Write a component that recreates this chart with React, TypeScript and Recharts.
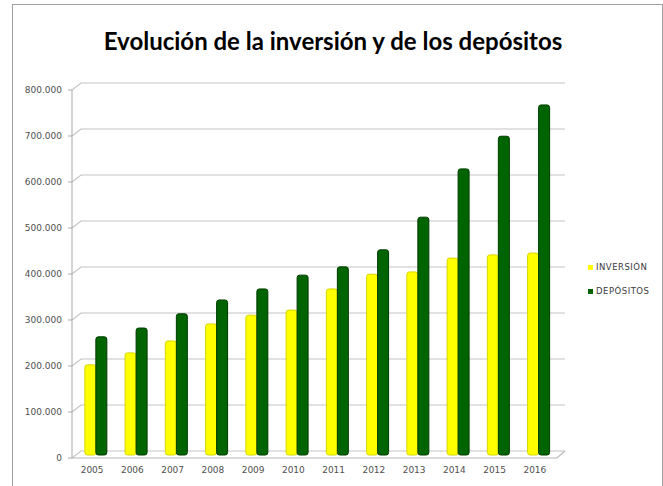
import React from 'react';
import { BarChart, Bar, XAxis, YAxis, CartesianGrid } from 'recharts';

const years = ['2005', '2006', '2007', '2008', '2009', '2010', '2011', '2012', '2013', '2014', '2015', '2016'];
const inversion = [196000, 222000, 248000, 285000, 304000, 315000, 361000, 393000, 398000, 428000, 435000, 439000];
const depositos = [257000, 276000, 307000, 337000, 361000, 391000, 409000, 446000, 517000, 622000, 693000, 761000];
const yTicks = [0, 100000, 200000, 300000, 400000, 500000, 600000, 700000, 800000];

const data = years.map((year, i) => ({
  year,
  inversion: inversion[i],
  depositos: depositos[i],
}));

const DEPTH_X = 9;
const DEPTH_Y = 7;

function formatThousands(v: number) {
  return String(v).replace(/\B(?=(\d{3})+(?!\d))/g, '.');
}

// back-wall gridline with a slanted joint, to mimic the 3D look
function WallLine(props: any) {
  const { x1, x2, y1 } = props;
  const y = y1;
  const back = (
    <path
      d={`M${x1},${y} L${x1 + DEPTH_X},${y - DEPTH_Y} L${x2 + DEPTH_X + 1},${y - DEPTH_Y}`}
      fill="none"
      stroke="#c4c4c4"
      strokeWidth={1.2}
    />
  );
  if (y >= 457) {
    return (
      <g key={props.key}>
        {back}
        <path
          d={`M${x1},${y} L${x2 + 2},${y} L${x2 + DEPTH_X + 1},${y - DEPTH_Y}`}
          fill="none"
          stroke="#b8b8b8"
          strokeWidth={1.2}
        />
      </g>
    );
  }
  return <g key={props.key}>{back}</g>;
}

function Column(props: any) {
  const { x, y, width, height, fill, stroke } = props;
  if (!height || height <= 0) return null;
  return (
    <rect
      x={x + 4}
      y={y - 3}
      width={width}
      height={height}
      rx={2.5}
      ry={2.5}
      fill={fill}
      stroke={stroke}
      strokeWidth={1}
    />
  );
}

const legendItems = [
  { label: 'INVERSIÓN', color: '#ffff00' },
  { label: 'DEPÓSITOS', color: '#006400' },
];

function SideLegend() {
  return (
    <div style={{ position: 'absolute', left: 588, top: 255, fontFamily: 'DejaVu Sans', fontSize: 8.5, letterSpacing: 0.5, color: '#3a3a3a' }}>
      {legendItems.map((it) => (
        <div key={it.label} style={{ display: 'flex', alignItems: 'center', height: 24 }}>
          <span style={{ width: 5, height: 5, background: it.color, marginRight: 3, display: 'inline-block' }} />
          <span>{it.label}</span>
        </div>
      ))}
    </div>
  );
}

export default function App() {
  return (
    <div style={{ position: 'absolute', left: 0, top: 0, width: 663, height: 486, background: '#fff', overflow: 'hidden' }}>
      <div
        style={{
          position: 'absolute',
          left: 12,
          top: 4,
          width: 649,
          height: 500,
          border: '1px solid #a0a0a0',
        }}
      />
      <div
        style={{
          position: 'absolute',
          left: 0,
          width: 666,
          top: 26,
          textAlign: 'center',
          fontFamily: 'Lato',
          fontWeight: 700,
          fontSize: 24,
          color: '#000',
          whiteSpace: 'nowrap',
        }}
      >
        Evolución de la inversión y de los depósitos
      </div>
      <div style={{ position: 'absolute', left: 0, top: 0 }}>
        <BarChart
          width={663}
          height={486}
          data={data}
          margin={{ top: 90, right: 108, bottom: 8, left: 12 }}
          barCategoryGap="22%"
          barGap={0}
        >
          <CartesianGrid vertical={false} horizontal={(p: any) => <WallLine {...p} />} />
          <XAxis
            dataKey="year"
            axisLine={false}
            tickLine={false}
            tickSize={0}
            tickMargin={9}
            height={20}
            interval={0}
            tick={{ fill: '#505050', fontSize: 9, fontFamily: 'DejaVu Sans' }}
          />
          <YAxis
            width={60}
            domain={[0, 800000]}
            ticks={yTicks}
            interval={0}
            tickFormatter={formatThousands}
            axisLine={{ stroke: '#a8a8a8' }}
            tickLine={{ stroke: '#a8a8a8' }}
            tickSize={4}
            tickMargin={6}
            tick={{ fill: '#505050', fontSize: 9, fontFamily: 'DejaVu Sans' }}
          />
          <Bar dataKey="inversion" name="INVERSIÓN" fill="#ffff00" stroke="#d6d600" shape={<Column />} isAnimationActive={false} />
          <Bar dataKey="depositos" name="DEPÓSITOS" fill="#006400" stroke="#003c00" shape={<Column />} isAnimationActive={false} />
        </BarChart>
      </div>
      <SideLegend />
    </div>
  );
}
